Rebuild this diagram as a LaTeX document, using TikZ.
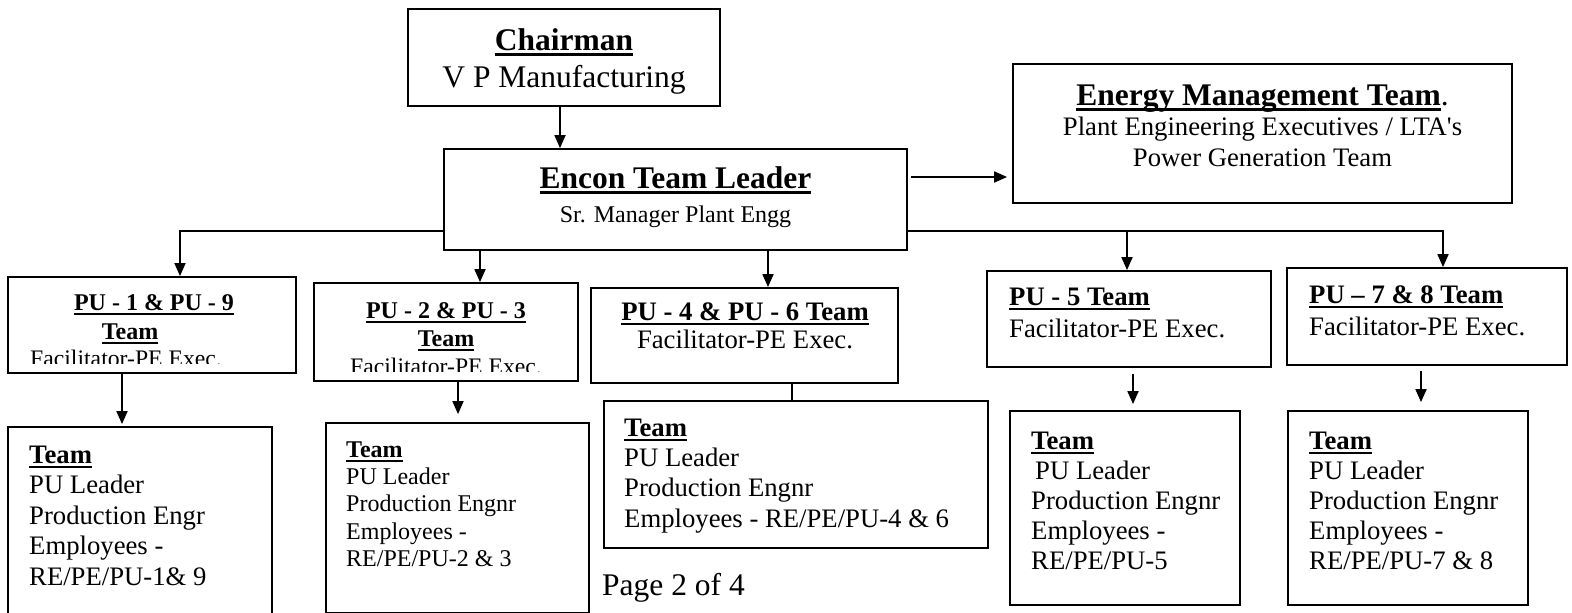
\documentclass[tikz,border=0pt]{standalone}
\usepackage{fontspec}
\setmainfont{Liberation Serif}
\usetikzlibrary{arrows.meta}
\newcommand\fs[2]{\fontsize{#1}{#2}\selectfont}
\newcommand\myul[1]{\setbox0\hbox{#1}\rlap{\rule[-0.19em]{\wd0}{0.085em}}\box0}
\begin{document}
\begin{tikzpicture}[x=1pt,y=-1pt,
  box/.style={draw, line width=1.8pt, inner sep=0pt, fill=white},
  txt/.style={inner sep=0pt, anchor=base},
  ltxt/.style={inner sep=0pt, anchor=base west},
  mtxt/.style={inner sep=0pt, anchor=north west, align=left},
  arr/.style={line width=1.8pt, -{Triangle[length=13pt,width=11pt]}},
  conn/.style={line width=1.8pt}]
\useasboundingbox (0,0) rectangle (1572,613);
\fill[white] (0,0) rectangle (1572,613);

% boxes
\node[box, minimum width=312pt, minimum height=97pt] (chair) at (564,57.5) {};
\node[box, minimum width=463pt, minimum height=101pt] (encon) at (675.5,199.5) {};
\node[box, minimum width=499pt, minimum height=139pt] (emt) at (1262.5,133.5) {};
\node[box, minimum width=288pt, minimum height=96pt] (pu1) at (152,325) {};
\node[box, minimum width=264pt, minimum height=98pt] (pu2) at (446,332) {};
\node[box, minimum width=307pt, minimum height=95pt] (pu4) at (744.5,335.5) {};
\node[box, minimum width=284pt, minimum height=96pt] (pu5) at (1129,319) {};
\node[box, minimum width=280pt, minimum height=97pt] (pu78) at (1427,316.5) {};
\node[box, minimum width=264pt, minimum height=193pt] (team1) at (140,523.5) {};
\node[box, minimum width=263pt, minimum height=190pt] (team2) at (457.5,518) {};
\node[box, minimum width=384pt, minimum height=147pt] (team4) at (796,474.5) {};
\node[box, minimum width=230pt, minimum height=194pt] (team5) at (1125,508) {};
\node[box, minimum width=240pt, minimum height=194pt] (team78) at (1408,508) {};

% texts
\node[txt, font=\fs{31.5}{36}\bfseries] (chairT) at (564,50) {\myul{Chairman}};
\node[txt, font=\fs{31.5}{36}] (chairS) at (564,87) {V P Manufacturing};
\node[txt, font=\fs{31.5}{36}\bfseries] (enconT) at (675.5,188) {\myul{Encon Team Leader}};
\node[txt, font=\fs{24}{28}] (enconS) at (675.5,222) {Sr. Manager Plant Engg};
\node[txt, font=\fs{31.5}{36}] (emtT) at (1262.5,105) {\myul{\textbf{Energy Management Team}}.};
\node[txt, font=\fs{26.7}{30.5}] (emtS1) at (1262.5,135) {Plant Engineering Executives / LTA\textquotesingle s};
\node[txt, font=\fs{26.7}{30.5}] (emtS2) at (1262.5,166) {Power Generation Team};

\node[txt, font=\fs{24}{28}\bfseries] (pu1T) at (154,310) {\myul{PU - 1 \& PU - 9}};
\node[txt, font=\fs{24}{28}\bfseries] (pu1T2) at (130,339) {\myul{Team}};
\begin{scope}
\clip (8,277) rectangle (296,363.5);
\node[txt, font=\fs{23.7}{28}] (pu1S) at (126,366.5) {Facilitator-PE Exec.};
\end{scope}

\node[txt, font=\fs{24}{28}\bfseries] (pu2T) at (446,318) {\myul{PU - 2 \& PU - 3}};
\node[txt, font=\fs{24}{28}\bfseries] (pu2T2) at (446,346) {\myul{Team}};
\begin{scope}
\clip (314,283) rectangle (578,371);
\node[txt, font=\fs{23.7}{28}] (pu2S) at (446,374) {Facilitator-PE Exec.};
\end{scope}

\node[txt, font=\fs{26.7}{30.5}\bfseries] (pu4T) at (745,320) {\myul{PU - 4 \& PU - 6 Team}};
\node[txt, font=\fs{26.7}{30.5}] (pu4S) at (745,348) {Facilitator-PE Exec.};

\node[ltxt, font=\fs{26.7}{30.5}\bfseries] (pu5T) at (1009,305) {\myul{PU - 5 Team}};
\node[ltxt, font=\fs{26.7}{30.5}] (pu5S) at (1009,337) {Facilitator-PE Exec.};

\node[ltxt, font=\fs{26.7}{30.5}\bfseries] (pu78T) at (1309,303) {\myul{PU – 7 \& 8 Team}};
\node[ltxt, font=\fs{26.7}{30.5}] (pu78S) at (1309,335) {Facilitator-PE Exec.};

\node[mtxt, font=\fs{26.7}{30.5}] (team1T) at (29,441.6)
  {\strut\myul{\textbf{Team}}\\PU Leader\\Production Engr\\Employees -\\RE/PE/PU-1\& 9};
\node[mtxt, font=\fs{24}{27.3}] (team2T) at (346,437.9)
  {\strut\myul{\textbf{Team}}\\PU Leader\\Production Engnr\\Employees -\\RE/PE/PU-2 \& 3};
\node[mtxt, font=\fs{26.7}{30.3}] (team4T) at (624,414.8)
  {\strut\myul{\textbf{Team}}\\PU Leader\\Production Engnr\\Employees - RE/PE/PU-4 \& 6};
\node[mtxt, font=\fs{26.7}{30}] (team5T) at (1031,428)
  {\strut\myul{\textbf{Team}}\\\kern4pt PU Leader\\Production Engnr\\Employees -\\RE/PE/PU-5};
\node[mtxt, font=\fs{26.7}{30}] (team78T) at (1309,428)
  {\strut\myul{\textbf{Team}}\\PU Leader\\Production Engnr\\Employees -\\RE/PE/PU-7 \& 8};

\node[ltxt, font=\fs{31.5}{36}] (page) at (602,595) {Page 2 of 4};

% connectors
\coordinate (c560) at (560,0);
\coordinate (e177) at (0,177);
\coordinate (lb) at (180,231);
\coordinate (rb) at (1443,231);
\coordinate (r5) at (1127,231);
\coordinate (d2) at (480,0);
\coordinate (d4) at (768,0);
\coordinate (x1) at (122,0);
\coordinate (x2) at (458,0);
\coordinate (x4) at (792,0);
\coordinate (x5) at (1133,0);
\coordinate (x78) at (1421,0);

\draw[arr] (chair.south -| c560) -- (encon.north -| c560);
\draw[arr, shorten <=3pt, shorten >=5pt] (encon.east |- e177) -- (emt.west |- e177);
\draw[arr] (encon.west |- lb) -- (lb) -- (lb |- pu1.north);
\draw[arr] (encon.south -| d2) -- (pu2.north -| d2);
\draw[arr] (encon.south -| d4) -- (pu4.north -| d4);
\draw[arr] (encon.east |- rb) -- (rb) -- (rb |- pu78.north);
\draw[arr] (r5) -- (r5 |- pu5.north);
\draw[arr, shorten >=2pt] (pu1.south -| x1) -- (team1.north -| x1);
\draw[arr, shorten >=8pt] (pu2.south -| x2) -- (team2.north -| x2);
\draw[conn] (pu4.south -| x4) -- (team4.north -| x4);
\draw[arr, shorten <=6pt, shorten >=6pt] (pu5.south -| x5) -- (team5.north -| x5);
\draw[arr, shorten <=5pt, shorten >=8pt] (pu78.south -| x78) -- (team78.north -| x78);
\end{tikzpicture}
\end{document}
